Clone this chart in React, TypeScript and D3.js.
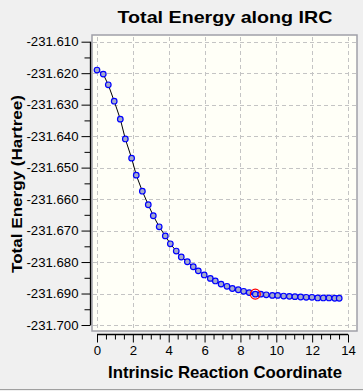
import { useEffect, useRef } from "react"
import * as d3 from "d3"

// IRC points
const ircCoord = [
  0.0, 0.35, 0.63, 0.96, 1.3, 1.58, 1.93, 2.19, 2.53, 2.86, 3.14, 3.47, 3.81, 4.09, 4.42,
  4.7, 5.04, 5.37, 5.65, 5.98, 6.32, 6.6, 6.92, 7.25, 7.55, 7.88, 8.18, 8.49, 8.83, 9.13,
  9.44, 9.78, 10.08, 10.41, 10.73, 11.04, 11.36, 11.67, 11.99, 12.31, 12.62, 12.94, 13.26,
  13.51,
]
const totalEnergy = [
  -231.619, -231.6203, -231.6237, -231.6289, -231.6346, -231.6409, -231.647, -231.6524,
  -231.6575, -231.6618, -231.6653, -231.6688, -231.6717, -231.6742, -231.6765, -231.6784,
  -231.6799, -231.6815, -231.6828, -231.6841, -231.6852, -231.686, -231.687, -231.6877,
  -231.6884, -231.6888, -231.6893, -231.6897, -231.6902, -231.6902, -231.6904, -231.6906,
  -231.6906, -231.6908, -231.6909, -231.691, -231.6911, -231.6912, -231.6912, -231.6914,
  -231.6914, -231.6914, -231.6915, -231.6915,
]
const highlightIndex = 28
const xTicks = [0, 2, 4, 6, 8, 10, 12, 14]
const yTicks = [
  -231.61, -231.62, -231.63, -231.64, -231.65, -231.66, -231.67, -231.68, -231.69, -231.7,
]

const font = "'Liberation Sans', Arial, sans-serif"

const App = () => {
  const svgRef = useRef<SVGSVGElement>(null)

  useEffect(() => {
    const svg = d3.select(svgRef.current)
    svg.selectAll("*").remove()

    const W = 363
    const H = 391
    const frame = { left: 92, top: 35, right: 357, bottom: 331 }

    const x = d3.scaleLinear().domain([0, 14]).range([97, 348])
    const y = d3.scaleLinear().domain([-231.7, -231.61]).range([325, 41.7])

    // panel background
    svg.append("rect").attr("width", W).attr("height", H).attr("fill", "#f0f0f0")
    svg
      .append("line")
      .attr("x1", 0)
      .attr("x2", W)
      .attr("y1", 389.5)
      .attr("y2", 389.5)
      .attr("stroke", "#a0a0a0")

    // plot area
    svg
      .append("rect")
      .attr("x", frame.left)
      .attr("y", frame.top)
      .attr("width", frame.right - frame.left)
      .attr("height", frame.bottom - frame.top)
      .attr("fill", "#fffff7")
      .attr("stroke", "#a0a0a8")
      .attr("stroke-width", 1.5)

    // grid
    const grid = svg.append("g").attr("stroke", "#c4c4c4").attr("stroke-dasharray", "4,3")
    grid
      .selectAll("line.gx")
      .data(xTicks)
      .enter()
      .append("line")
      .attr("x1", (d) => Math.round(x(d)) + 0.5)
      .attr("x2", (d) => Math.round(x(d)) + 0.5)
      .attr("y1", frame.top + 2)
      .attr("y2", frame.bottom - 1)
    grid
      .selectAll("line.gy")
      .data(yTicks)
      .enter()
      .append("line")
      .attr("y1", (d) => Math.round(y(d)) + 0.5)
      .attr("y2", (d) => Math.round(y(d)) + 0.5)
      .attr("x1", frame.left + 1)
      .attr("x2", frame.right - 1)

    // y axis
    const yAxis = svg
      .append("g")
      .attr("transform", "translate(90.5,0)")
      .call(
        d3
          .axisLeft(y)
          .tickValues(yTicks)
          .tickSize(9)
          .tickPadding(3)
          .tickFormat((d) => (d as number).toFixed(3)),
      )
    svg
      .append("g")
      .attr("transform", "translate(90.5,0)")
      .call(
        d3
          .axisLeft(y)
          .tickValues(d3.range(9).map((i) => -231.615 - i * 0.01))
          .tickSize(6)
          .tickFormat(() => ""),
      )
      .call((g) => g.select(".domain").remove())

    // x axis
    const xAxis = svg
      .append("g")
      .attr("transform", "translate(0,334.5)")
      .call(d3.axisBottom(x).tickValues(xTicks).tickSize(8).tickPadding(3))
    svg
      .append("g")
      .attr("transform", "translate(0,334.5)")
      .call(
        d3
          .axisBottom(x)
          .tickValues(d3.range(0, 14.01, 0.5).filter((v) => v % 2 !== 0))
          .tickSize(5)
          .tickFormat(() => ""),
      )
      .call((g) => g.select(".domain").remove())

    yAxis.select(".domain").attr("d", `M0,${y(-231.61)}V${y(-231.7)}`).attr("stroke-width", 1.3)
    xAxis.select(".domain").attr("d", `M${x(0)},0H${x(14)}`).attr("stroke-width", 1.3)

    svg.selectAll(".tick line").attr("stroke", "#000")
    svg
      .selectAll(".tick text")
      .attr("font-family", font)
      .attr("font-size", 13.2)
      .attr("fill", "#000")

    // curve
    const pts = ircCoord.map((c, i) => [c, totalEnergy[i]] as [number, number])
    svg
      .append("path")
      .datum(pts)
      .attr("fill", "none")
      .attr("stroke", "#000")
      .attr("stroke-width", 1)
      .attr(
        "d",
        d3
          .line<[number, number]>()
          .x((d) => x(d[0]))
          .y((d) => y(d[1])),
      )

    svg
      .append("g")
      .selectAll("circle")
      .data(pts)
      .enter()
      .append("circle")
      .attr("cx", (d) => x(d[0]))
      .attr("cy", (d) => y(d[1]))
      .attr("r", 2.8)
      .attr("fill", "#a4aacb")
      .attr("stroke", "#0000ff")
      .attr("stroke-width", 1.2)

    svg
      .append("circle")
      .attr("cx", x(ircCoord[highlightIndex]))
      .attr("cy", y(totalEnergy[highlightIndex]))
      .attr("r", 5)
      .attr("fill", "none")
      .attr("stroke", "#ff0000")
      .attr("stroke-width", 1.2)

    // titles
    svg
      .append("text")
      .attr("x", 225)
      .attr("y", 23)
      .attr("text-anchor", "middle")
      .attr("font-family", font)
      .attr("font-weight", "bold")
      .attr("font-size", 17)
      .attr("textLength", 215)
      .attr("lengthAdjust", "spacingAndGlyphs")
      .text("Total Energy along IRC")

    svg
      .append("text")
      .attr("x", 225)
      .attr("y", 378)
      .attr("text-anchor", "middle")
      .attr("font-family", font)
      .attr("font-weight", "bold")
      .attr("font-size", 16.5)
      .attr("textLength", 234)
      .attr("lengthAdjust", "spacingAndGlyphs")
      .text("Intrinsic Reaction Coordinate")

    svg
      .append("text")
      .attr("transform", "translate(22,184) rotate(-90)")
      .attr("text-anchor", "middle")
      .attr("font-family", font)
      .attr("font-weight", "bold")
      .attr("font-size", 15.5)
      .attr("textLength", 178)
      .attr("lengthAdjust", "spacingAndGlyphs")
      .text("Total Energy (Hartree)")
  }, [])

  return (
    <svg
      ref={svgRef}
      width={363}
      height={391}
      style={{ position: "absolute", left: 0, top: 0, display: "block" }}
    />
  )
}

export default App
